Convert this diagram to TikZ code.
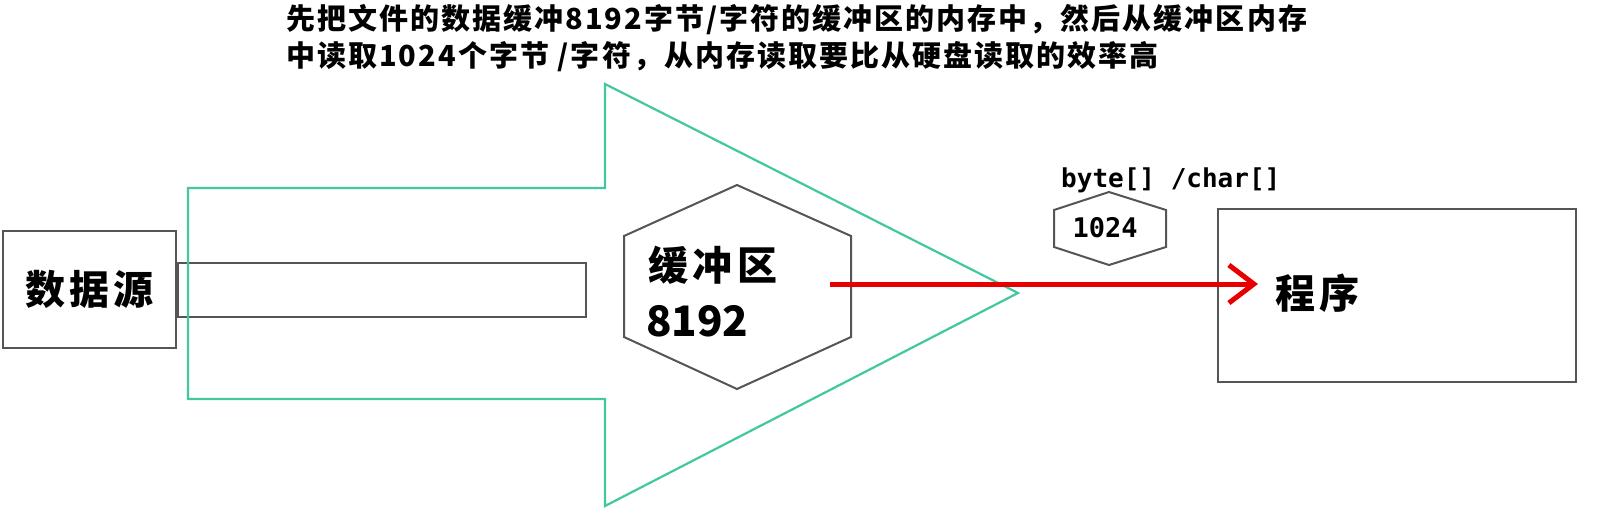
\documentclass[tikz,border=0pt]{standalone}
\usepackage{fontspec}
\setmainfont{Noto Sans CJK SC}
\newfontfamily\monob{DejaVu Sans Mono}
\usetikzlibrary{arrows.meta}
\definecolor{grn}{RGB}{66,200,160}
\definecolor{edge}{RGB}{85,85,85}
\definecolor{rd}{RGB}{232,0,0}
\begin{document}
\begin{tikzpicture}[x=1pt,y=-1pt,
  box/.style={draw=edge,line width=2pt,inner sep=0pt,rectangle},
  lbl/.style={inner sep=0pt,anchor=west},
  hexline/.style={draw=edge,line width=2pt,line join=miter},
  flow/.style={draw=grn,line width=2.2pt,line join=miter},
  readarrow/.style={draw=rd,line width=5pt,-{Straight Barb[length=25pt,width=38pt]}}
]
\useasboundingbox (0,0) rectangle (1606,511);
\fill[white] (0,0) rectangle (1606,511);

% top note
\node[lbl] (note1) at (286,20) {\fontsize{29}{34}\selectfont\bfseries\addfontfeature{LetterSpace=7}先把文件的数据缓冲8192字节/字符的缓冲区的内存中，然后从缓冲区内存};
\node[lbl] (note2) at (286,57) {\fontsize{29}{34}\selectfont\bfseries\addfontfeature{LetterSpace=7}中读取1024个字节 /字符，从内存读取要比从硬盘读取的效率高};

% data source
\node[box,minimum width=173pt,minimum height=117pt] (src) at (89.5,289.5) {\fontsize{40}{44}\selectfont\bfseries\addfontfeature{LetterSpace=10}数据源};

% pipe
\node[box,minimum width=408pt,minimum height=54pt] (pipe) at (382,290) {};

% big green arrow
\draw[flow] (188,188) -- (605,188) -- (605,84) -- (1018,293) -- (605,506) -- (605,399) -- (188,399) -- cycle;

% buffer hexagon
\draw[hexline] (737,185) -- (851,236) -- (851,337) -- (737,389) -- (624,337) -- (624,236) -- cycle;
\node[lbl] (buf) at (648,265) {\fontsize{40}{44}\selectfont\bfseries\addfontfeature{LetterSpace=12}缓冲区};
\node[lbl] (bufsize) at (646,321) {\fontsize{42}{46}\selectfont\bfseries 8192};

% small hexagon
\draw[hexline] (1109,192) -- (1166,210) -- (1166,247) -- (1109,265) -- (1054,247) -- (1054,210) -- cycle;
\node[inner sep=0pt] (chunk) at (1105,228) {\fontsize{27}{30}\selectfont\monob\bfseries 1024};
\node[lbl] (arr) at (1061,180) {\fontsize{26}{30}\selectfont\monob\bfseries byte[] /char[]};

% program
\node[box,minimum width=358pt,minimum height=173pt] (prog) at (1397,295.5) {};
\node[lbl] (progtxt) at (1275,293) {\fontsize{40}{44}\selectfont\bfseries\addfontfeature{LetterSpace=12}程序};

% red read arrow
\coordinate (rs) at (830,284);
\coordinate (re) at (1258,284);
\draw[readarrow] (rs) -- (re);
\end{tikzpicture}
\end{document}
